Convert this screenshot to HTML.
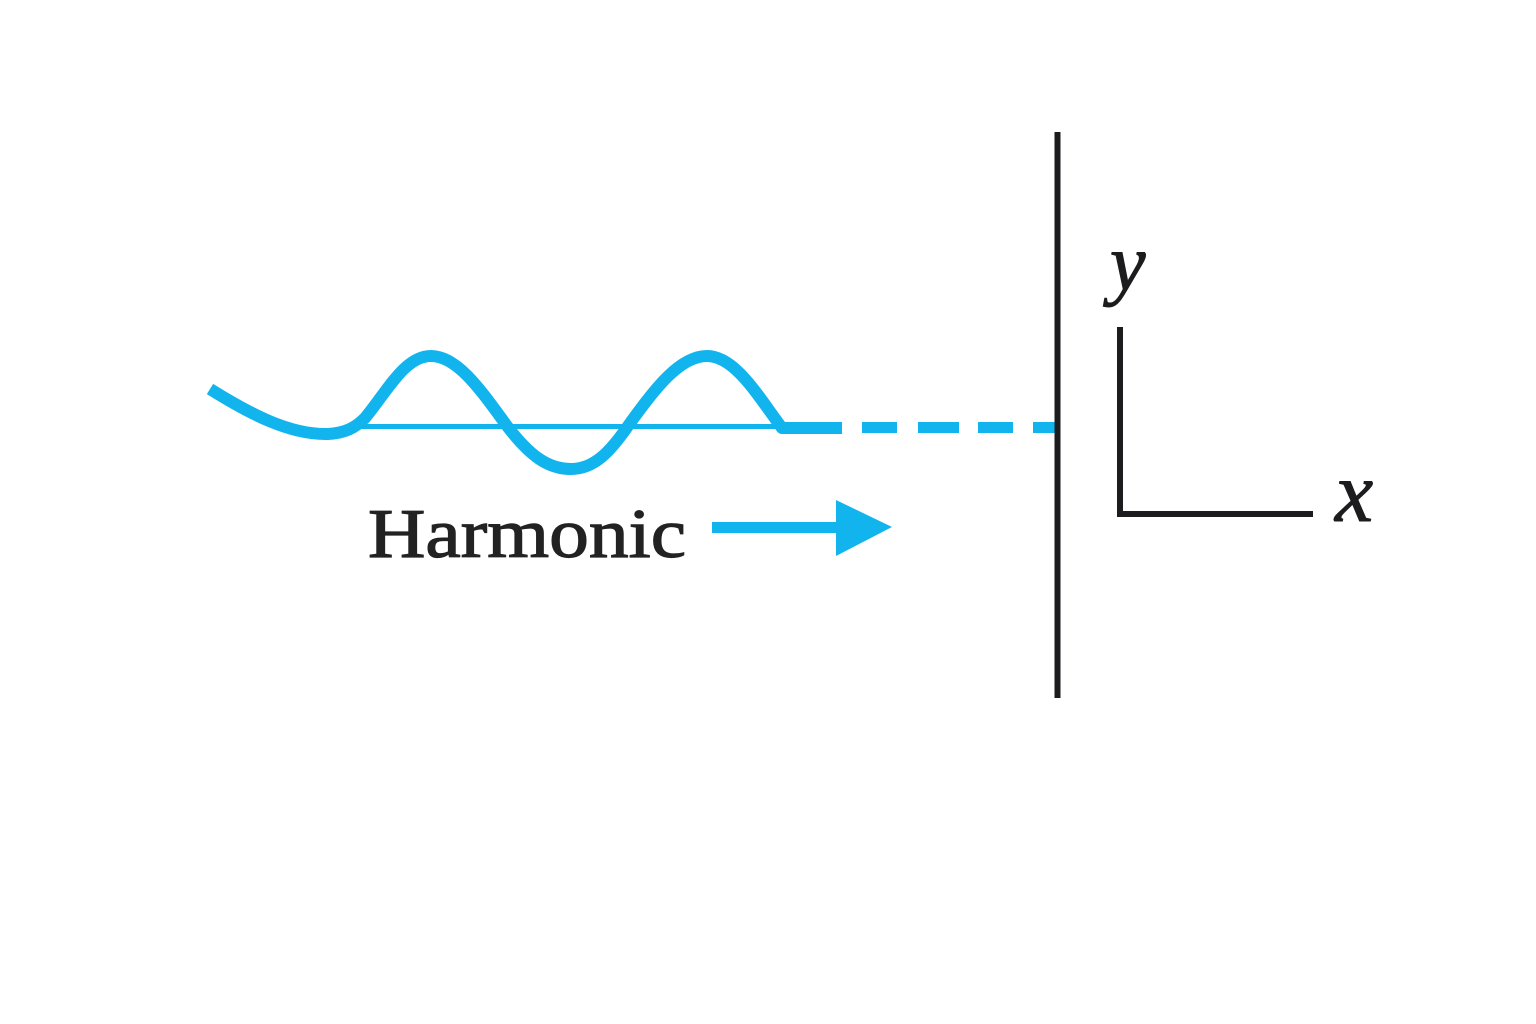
<!DOCTYPE html>
<html>
<head>
<meta charset="utf-8">
<style>
  html, body { margin: 0; padding: 0; background: #ffffff; }
  body { width: 1536px; height: 1024px; overflow: hidden; }
  svg { display: block; }
</style>
</head>
<body>
<svg width="1536" height="1024" viewBox="0 0 1536 1024" xmlns="http://www.w3.org/2000/svg">
  <rect x="0" y="0" width="1536" height="1024" fill="#ffffff"/>

  <!-- thin baseline -->
  <line x1="360" y1="426.5" x2="782" y2="426.5" stroke="#12b4ee" stroke-width="5"/>

  <!-- wave -->
  <path d="M210,389 C250,414 290,435 328,434 C345,433 355,428 365,418 C388,390 405,356 431,356 C458,356 482,392 507,426 C530,456 548,469 571,469 C594,469 610,452 628,426 C655,388 680,356 707,356 C735,356 758,396 782,428 L842,428"
        fill="none" stroke="#12b4ee" stroke-width="12" stroke-linejoin="round"/>

  <!-- dashes -->
  <g fill="#12b4ee">
    <rect x="862" y="422" width="35" height="11"/>
    <rect x="918" y="422" width="41" height="11"/>
    <rect x="978" y="422" width="35" height="11"/>
    <rect x="1033" y="422" width="22" height="11"/>
  </g>

  <!-- vertical wall -->
  <rect x="1054.5" y="132" width="6" height="566" fill="#1c1c1e"/>

  <!-- axes -->
  <path d="M1120,327 L1120,514 L1313,514" fill="none" stroke="#1c1c1e" stroke-width="6"/>

  <!-- axis labels -->
  <text x="1110" y="290" font-family="'Liberation Serif', 'DejaVu Serif', serif" font-style="italic" font-size="80" fill="#1c1c1e" stroke="#1c1c1e" stroke-width="1">y</text>
  <text x="1335" y="521" font-family="'Liberation Serif', 'DejaVu Serif', serif" font-style="italic" font-size="86" fill="#1c1c1e" stroke="#1c1c1e" stroke-width="1">x</text>

  <!-- Harmonic label -->
  <text x="368" y="557" font-family="'Liberation Serif', 'DejaVu Serif', serif" font-size="70" fill="#222222" stroke="#222222" stroke-width="1.2" textLength="318" lengthAdjust="spacingAndGlyphs">Harmonic</text>

  <!-- arrow -->
  <rect x="712" y="522" width="128" height="11" fill="#12b4ee"/>
  <polygon points="836,500 892,527 836,556" fill="#12b4ee"/>
</svg>
</body>
</html>
